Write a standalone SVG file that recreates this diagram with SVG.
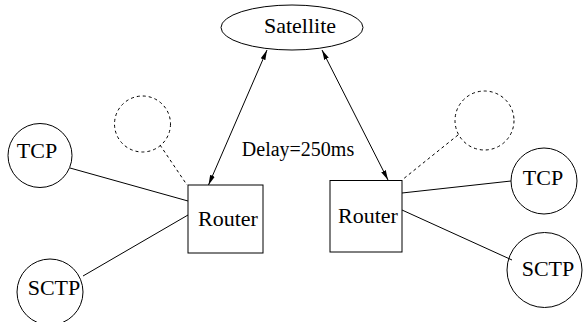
<svg xmlns="http://www.w3.org/2000/svg" width="584" height="322" viewBox="0 0 584 322">
  <style>
    .shape { fill: none; stroke: #000; stroke-width: 1; }
    .dash { fill: none; stroke: #000; stroke-width: 1; stroke-dasharray: 3 3; }
    .wire { stroke: #000; stroke-width: 1; fill: none; }
    text { font-family: 'Liberation Serif', Tinos, 'Times New Roman', Times, 'DejaVu Serif', serif; font-size: 22px; fill: #000; text-anchor: middle; }
    .label { font-size: 20px; }
  </style>
  <defs>
    <marker id="arrow" viewBox="0 0 10 6" refX="10" refY="3" markerWidth="10" markerHeight="6" markerUnits="userSpaceOnUse" orient="auto-start-reverse">
      <path d="M0,0.5 L10,3 L0,5.5 Z" fill="#000"/>
    </marker>
  </defs>

  <rect width="584" height="322" fill="#fff"/>

  <!-- connectors -->
  <g id="connectors">
    <line class="wire" x1="267" y1="50" x2="208.5" y2="185" marker-start="url(#arrow)" marker-end="url(#arrow)"/>
    <line class="wire" x1="322" y1="50" x2="388" y2="180" marker-start="url(#arrow)" marker-end="url(#arrow)"/>
    <line class="wire" x1="70" y1="168" x2="188" y2="201"/>
    <line class="wire" x1="83" y1="276" x2="188" y2="215"/>
    <line class="wire" x1="402" y1="193" x2="511" y2="181"/>
    <line class="wire" x1="402" y1="210" x2="512" y2="260"/>
    <line class="dash" x1="160" y1="145" x2="187" y2="185"/>
    <line class="dash" x1="458" y1="135" x2="402" y2="180"/>
  </g>

  <text class="label" x="298" y="156" font-family="Liberation Serif, serif">Delay=250ms</text>

  <g id="satellite">
    <ellipse class="shape" cx="292" cy="27.5" rx="71" ry="22.5"/>
    <text x="300" y="33">Satellite</text>
  </g>

  <g id="router-left">
    <rect class="shape" x="188" y="185" width="75" height="68"/>
    <text x="228" y="226">Router</text>
  </g>

  <g id="router-right">
    <rect class="shape" x="330" y="180.5" width="72" height="71.5"/>
    <text x="368" y="223">Router</text>
  </g>

  <g id="tcp-left">
    <circle class="shape" cx="40" cy="155.5" r="32"/>
    <text x="37" y="158">TCP</text>
  </g>

  <g id="sctp-left">
    <circle class="shape" cx="50" cy="292" r="33"/>
    <text x="54" y="295">SCTP</text>
  </g>

  <g id="tcp-right">
    <circle class="shape" cx="544" cy="181" r="33"/>
    <text x="543" y="185">TCP</text>
  </g>

  <g id="sctp-right">
    <circle class="shape" cx="544.5" cy="270" r="37.5"/>
    <text x="548" y="276">SCTP</text>
  </g>

  <g id="spare-left">
    <circle class="dash" cx="142.5" cy="124" r="28"/>
  </g>

  <g id="spare-right">
    <circle class="dash" cx="484.5" cy="120.5" r="29.5"/>
  </g>
</svg>
